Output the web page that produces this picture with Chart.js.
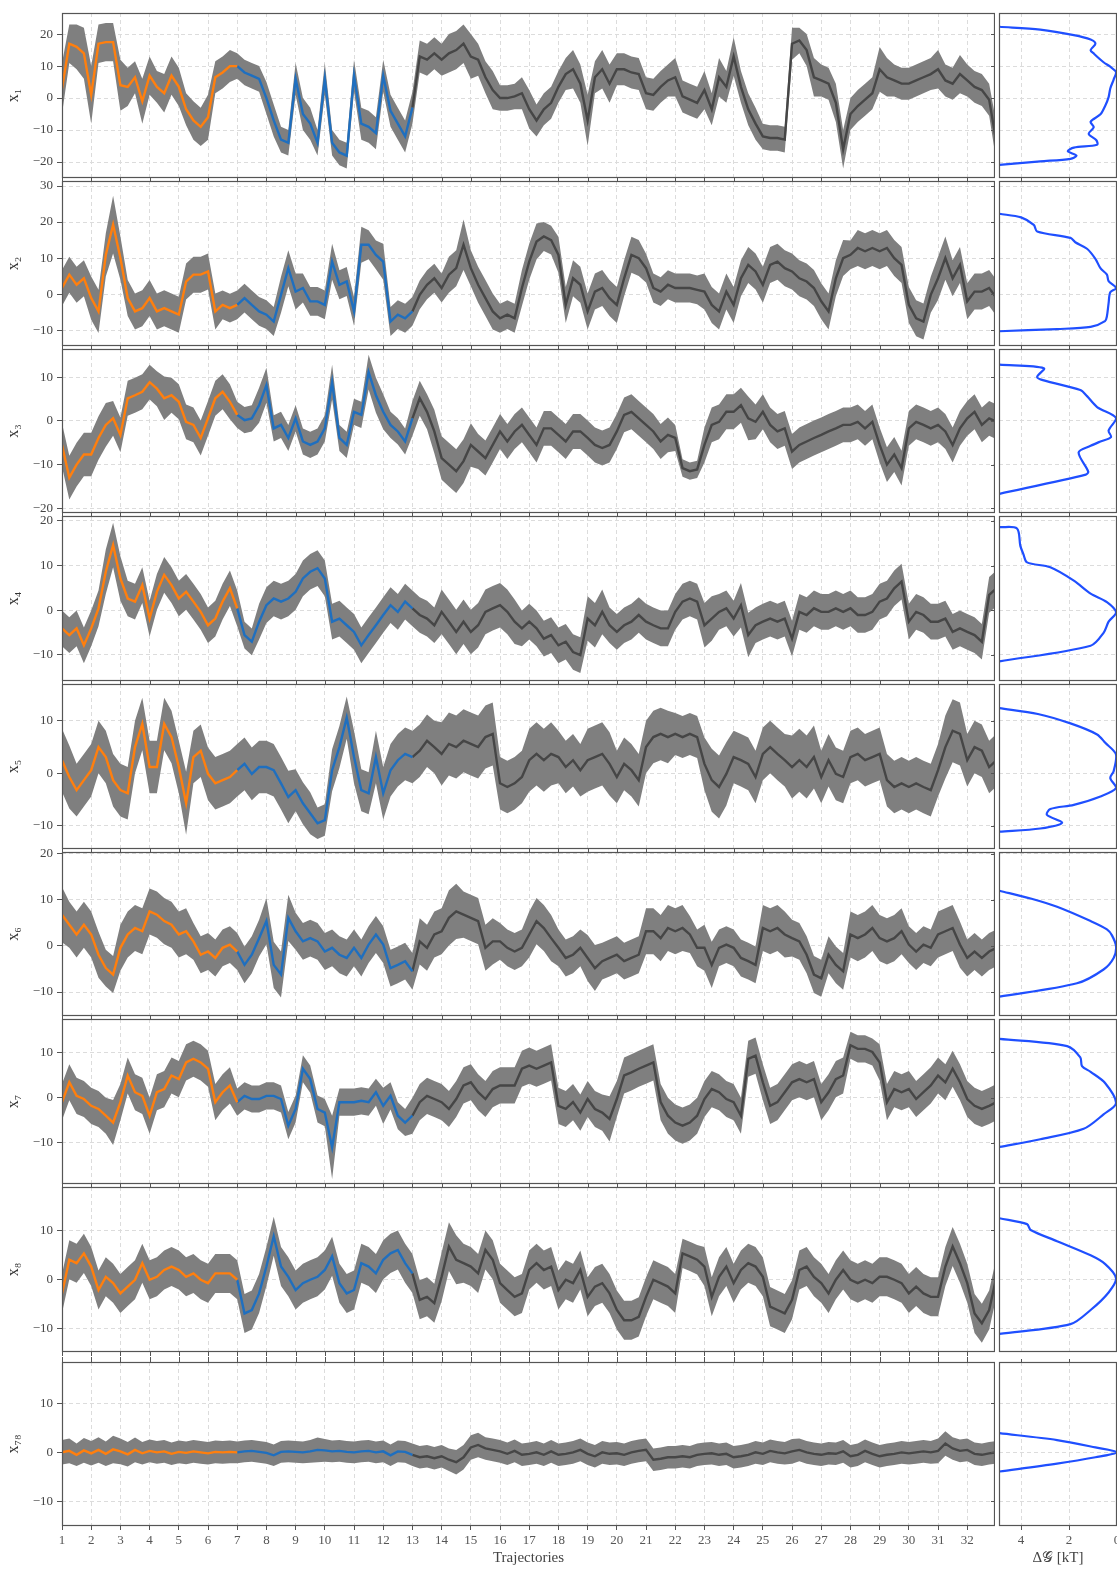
<!DOCTYPE html>
<html>
<head>
<meta charset="utf-8">
<script src="https://cdn.jsdelivr.net/npm/chart.js@4.4.1/dist/chart.umd.min.js"></script>
<style>
  body { margin: 0; background: #fff; width: 1118px; height: 1569px; position: relative; overflow: hidden; }
  canvas { position: absolute; }
</style>
</head>
<body>
<script>
// trajectory axis: one sample every quarter trajectory, starting at 1
const trajTicks = [1, 2, 3, 4, 5, 6, 7, 8, 9, 10, 11, 12, 13, 14, 15, 16, 17, 18, 19, 20, 21, 22, 23, 24, 25, 26, 27, 28, 29, 30, 31, 32];
const step = 0.25;
const energyTicks = [0, 2, 4];

// smoothed coordinate (mean) and half-width of the raw spread around it
const x1Mean = [3, 17, 16, 14, 1, 17, 17.5, 17.5, 4, 3.5, 6.5, -1, 7, 3.5, 1.5, 7, 3.5, -3.5, -7, -9, -6, 6.5, 8, 10,
  10, 8, 7, 6, 0, -7, -13, -14, 6, -5, -8, -14, 6, -14, -17, -18, 7, -8, -9, -11, 7, -4, -8, -12,
  -3, 13, 12, 14, 12, 14, 15, 17, 13, 12, 6.5, 2.5, 0, 0, 0.5, 1.5, -3.5, -7, -3.5, -1.5, 3.5, 7.5, 9, 4.5,
  -7, 6.5, 9, 4.5, 9, 9, 8, 7.5, 1.5, 1, 3.5, 5.5, 6.5, 0.5, -0.5, -1.5, 2.5, -3.5, 6.5, 3.5, 13, 3.5, -3.5, -8,
  -12, -12.5, -12.5, -13, 17, 18, 15, 6.5, 5.5, 4.5, -1.5, -16, -5, -2.5, -0.5, 1.5, 9, 6.5, 5.5, 4.5,
  4.5, 5.5, 6.5, 7.5, 9, 5.5, 4.5, 7.5, 5.5, 3.5, 2.5, -0.5, -14];
const x1Band = [8, 6, 7, 8, 9, 6, 6, 6, 8, 6, 5, 7, 6, 5, 6, 6, 6, 5, 6, 6, 7, 5, 5, 5,
  4, 4, 4, 4, 5, 5, 4, 4, 5, 5, 5, 4, 5, 4, 4, 4, 5, 5, 5, 5, 5, 5, 5, 5,
  5, 5, 5, 5, 5, 6, 6, 6, 7, 5, 5, 6, 4, 4, 4, 5, 6, 5, 5, 5, 5, 5, 6, 6,
  8, 5, 6, 6, 5, 5, 5, 5, 5, 5, 5, 5, 6, 5, 5, 5, 6, 5, 6, 5, 6, 5, 5, 5,
  4, 4, 4, 4, 5, 4, 5, 6, 5, 5, 6, 6, 5, 5, 5, 5, 7, 6, 5, 5,
  5, 5, 5, 5, 6, 5, 5, 6, 5, 5, 5, 5, 6];

const x2Mean = [1.7, 5.4, 2.6, 4.4, -1.1, -4.8, 10.9, 19.3, 10, -1.1, -4.8, -3.9, -1.1, -4.8, -3.9, -4.8, -5.7, 3.5, 5.4, 5.4, 6.3, -4.8, -3, -3.9,
  -3, -1.1, -3, -4.8, -5.7, -7.6, -0.2, 7.2, 0.7, 1.7, -2, -2, -3, 9, 2.6, 3.5, -4.8, 13.7, 13.7, 10.9, 9, -7.6, -5.7, -6.7,
  -4.8, -0.2, 2.6, 4.4, 1.7, 5.4, 7.2, 13.7, 7.2, 2.6, -1.1, -4.8, -6.7, -5.7, -6.7, 1.7, 9, 14.6, 16, 15, 10.9, -3, 4.4, 2.6,
  -4.8, 0.7, 1.7, -1.1, -3, 4.4, 10.9, 10, 7.2, 1.7, 0.7, 2.6, 1.7, 1.7, 1.7, 1.2, 0.7, -3, -4.8, 0.7, -3, 4.4, 8.1, 6.3,
  2.6, 8.1, 9, 7.2, 6.3, 4.4, 3.5, 1.7, -2, -4.8, 4.4, 10, 10.9, 12.8, 11.9, 12.8, 11.9, 12.8, 10, 8.1,
  -3, -6.7, -7.6, -0.2, 4.4, 10, 4.4, 8.1, -2, 0.7, 0.7, 1.7, -1.1];
const x2Band = [5, 5, 5, 5, 6, 6, 6, 8, 6, 5, 5, 5, 5, 5, 5, 5, 5, 5, 5, 5, 5, 5, 4, 4,
  4, 4, 4, 4, 4, 4, 5, 5, 5, 4, 4, 4, 4, 5, 4, 4, 4, 5, 4, 4, 5, 4, 4, 4,
  4, 4, 4, 4, 4, 5, 5, 7, 5, 5, 5, 5, 4, 4, 4, 5, 5, 5, 4, 4, 5, 5, 5, 5,
  5, 5, 5, 5, 5, 5, 5, 5, 4, 4, 4, 4, 4, 4, 4, 4, 5, 5, 5, 5, 5, 5, 5, 5,
  5, 5, 5, 5, 5, 5, 5, 5, 5, 5, 5, 5, 4, 5, 5, 5, 5, 5, 5, 5,
  5, 5, 5, 5, 6, 6, 5, 5, 5, 5, 5, 5, 5];

const x3Mean = [-5.5, -13, -10, -7.7, -7.7, -3.9, -0.9, 0.6, -3.2, 5.2, 5.9, 6.7, 8.9, 7.4, 5.2, 5.9, 4.4, -0.2, -0.9, -3.9, 0.6, 5.2, 6.7, 4.4,
  1.4, 0.2, 0.6, 3.6, 8.2, -1.7, -0.9, -3.9, 0.6, -4.7, -5.5, -4.7, -1.7, 8.9, -3.9, -5.5, 2.1, 1.4, 11.2, 5.9, 2.1, -0.9, -2.4, -4.7,
  0.6, 5.2, 2.1, -2.4, -8.5, -10, -11.5, -9.2, -5.5, -7, -8.5, -5.5, -2.4, -4.7, -2.4, -0.9, -3.2, -5.5, -1.7, -1.7, -3.2, -4.7, -2.4, -2.4,
  -3.9, -5.5, -6.2, -5.5, -2.4, 1.4, 2.1, 0.6, -0.9, -2.4, -4.7, -3.2, -3.9, -10.8, -11.5, -11.1, -5.5, -0.9, -0.2, 2.1, 2.1, 3.6, 0.6, -0.2,
  2.1, -0.9, -2.4, -1.7, -7, -5.5, -4.7, -3.9, -3.2, -2.4, -1.7, -0.9, -0.9, -0.2, -1.7, -0.2, -5.5, -10, -7.7, -10.8,
  -1.7, -0.2, -0.9, -1.7, -0.9, -2.4, -5.5, -1.7, 0.6, 2.1, -0.9, 0.6, -0.2];
const x3Band = [5, 5, 5, 5, 5, 5, 5, 4, 4, 4, 4, 4, 4, 4, 5, 4, 4, 4, 4, 4, 4, 4, 4, 4,
  3, 3, 3, 4, 4, 3, 3, 3, 3, 3, 3, 3, 3, 4, 3, 3, 3, 3, 4, 4, 4, 3, 3, 3,
  4, 4, 4, 5, 5, 5, 5, 5, 5, 4, 4, 4, 4, 4, 4, 4, 4, 4, 4, 4, 4, 4, 4, 4,
  4, 4, 4, 4, 4, 4, 4, 4, 4, 4, 4, 4, 3, 2, 2, 2, 4, 4, 4, 4, 4, 4, 5, 4,
  4, 4, 4, 4, 4, 4, 4, 4, 4, 4, 4, 4, 4, 4, 4, 4, 4, 4, 4, 4,
  4, 4, 4, 4, 4, 4, 4, 4, 4, 4, 4, 4, 4];

const x4Mean = [-4.1, -5.6, -4.1, -7.9, -4.1, 0.4, 8.6, 14.6, 7.1, 2.6, 1.9, 5.6, -1.9, 4.1, 7.9, 5.6, 2.6, 4.1, 1.9, -0.4, -3.4, -1.9, 1.9, 4.9,
  0.4, -5.6, -7.1, -2.6, 1.1, 2.6, 1.9, 2.6, 4.1, 7.1, 8.6, 9.4, 7.1, -2.6, -1.9, -3.4, -4.9, -7.9, -5.6, -3.4, -1.1, 1.1, -0.4, 1.9,
  0.4, -1.1, -1.9, -3.4, -0.4, -2.6, -4.9, -2.6, -4.9, -3.4, -0.4, 0.4, 1.1, -0.4, -2.6, -4.1, -2.6, -4.1, -6.4, -5.6, -7.9, -7.1, -9.4, -10.1,
  -1.9, -3.4, -0.4, -3.4, -4.9, -3.4, -2.6, -1.1, -2.6, -3.4, -4.1, -4.1, -0.4, 1.9, 2.6, 1.9, -3.4, -1.9, -0.4, 0.4, -1.9, 1.1, -5.6, -3.4,
  -2.6, -1.9, -2.6, -1.9, -6.4, -0.4, -1.1, 0.4, -0.4, -0.4, 0.4, -0.4, 0.4, -1.1, -1.1, -0.4, 1.9, 2.6, 4.9, 6.4,
  -2.6, -0.4, -1.1, -2.6, -2.6, -1.9, -4.9, -4.1, -4.9, -5.6, -7.1, 3.4, 4.9];
const x4Band = [4, 4, 4, 4, 4, 4, 5, 5, 5, 4, 4, 4, 4, 4, 4, 4, 4, 4, 4, 4, 4, 4, 4, 4,
  4, 3, 3, 4, 4, 4, 4, 4, 4, 4, 4, 4, 4, 4, 4, 4, 4, 4, 4, 4, 4, 4, 4, 4,
  4, 4, 4, 4, 5, 5, 5, 5, 5, 5, 5, 5, 5, 5, 5, 4, 4, 4, 4, 4, 4, 4, 4, 4,
  5, 5, 5, 4, 4, 4, 4, 4, 4, 4, 4, 4, 4, 4, 4, 4, 5, 5, 4, 4, 4, 5, 5, 4,
  4, 4, 4, 4, 4, 4, 4, 4, 4, 4, 4, 4, 4, 4, 4, 4, 4, 4, 4, 4,
  4, 4, 4, 4, 4, 4, 4, 4, 4, 4, 4, 4, 4];

const x5Mean = [2.5, -0.7, -3.2, -1.3, 0.6, 5, 3.1, -1.3, -3.2, -3.8, 5, 9.4, 1.2, 1.2, 9.4, 6.9, 1.2, -5.7, 3.1, 4.3, -0.1, -1.9, -1.3, -0.7,
  0.6, 1.8, -0.1, 1.2, 1.2, 0.6, -1.9, -4.5, -3.2, -5.7, -7.6, -9.5, -8.9, 0.6, 5, 10.6, 3.1, -3.2, -3.8, 3.1, -3.8, 0.6, 2.5, 3.7,
  3.1, 4.3, 6.2, 5, 3.7, 5.6, 5, 6.2, 5.6, 5, 6.9, 7.5, -1.9, -2.6, -1.9, -0.7, 2.5, 3.7, 2.5, 3.7, 3.1, 1.2, 2.5, 0.6,
  2.5, 3.1, 3.7, 1.8, -0.7, 1.8, 0.6, -1.3, 5, 6.9, 7.5, 6.9, 7.5, 6.9, 7.5, 6.9, 1.8, -1.3, -2.6, -0.1, 3.1, 2.5, 1.8, -0.7,
  3.7, 5, 3.7, 2.5, 1.2, 2.5, 1.2, 3.1, -0.7, 2.5, -0.1, -0.7, 3.1, 3.7, 2.5, 3.1, 3.7, -1.3, -2.6, -1.9,
  -2.6, -1.9, -2.6, -3.2, 0.6, 5, 8.1, 7.5, 2.5, 5, 4.3, 1.2, 2.5];
const x5Band = [6, 6, 5, 5, 5, 5, 5, 5, 5, 5, 5, 5, 5, 5, 5, 5, 5, 6, 5, 5, 5, 5, 5, 5,
  5, 5, 5, 5, 5, 5, 5, 5, 4, 4, 4, 3, 3, 4, 4, 4, 5, 4, 4, 5, 5, 5, 5, 5,
  5, 5, 5, 5, 6, 6, 6, 6, 6, 6, 6, 6, 5, 5, 5, 5, 6, 6, 6, 6, 5, 5, 5, 5,
  6, 6, 6, 6, 5, 5, 5, 5, 5, 5, 5, 5, 4, 4, 4, 4, 5, 6, 6, 6, 5, 5, 5, 5,
  5, 5, 5, 5, 6, 6, 6, 6, 5, 5, 5, 5, 5, 5, 5, 5, 5, 5, 5, 5,
  5, 5, 5, 5, 5, 6, 6, 6, 5, 5, 5, 5, 5];

const x6Mean = [6.8, 4.6, 2.5, 4.6, 2.5, -1.9, -4.8, -6.2, -0.4, 2.5, 3.9, 3.2, 7.5, 6.8, 5.4, 4.6, 2.5, 3.2, 1, -1.9, -1.2, -2.6, -0.4, 0.3,
  -1.2, -4.1, -1.9, 1.7, 5.4, -4.1, -6.2, 6.1, 3.2, 1, 1.7, 1, -1.2, -0.4, -1.9, -2.6, -0.4, -2.6, 0.3, 2.5, 0.3, -4.8, -4.1, -3.3,
  -5.5, 1, -0.4, 2.5, 3.2, 6.1, 7.5, 6.8, 6.1, 5.4, -0.4, 1, 1, -0.4, -1.2, -0.4, 2.5, 5.4, 3.9, 1.7, -0.4, -2.6, -1.9, -0.4,
  -2.6, -4.8, -3.3, -2.6, -1.9, -3.3, -2.6, -1.9, 3.2, 3.2, 1.7, 3.9, 3.2, 3.9, 2.5, -0.4, -0.4, -4.1, -0.4, 0.3, -0.4, -2.6, -3.3, -4.1,
  3.9, 3.2, 3.9, 2.5, 1.7, 1, -1.9, -6.2, -7, -1.9, -4.1, -5.5, 2.5, 1.7, 2.5, 3.9, 1.7, 1, 1.7, 3.2,
  0.3, -1.2, 0.3, -0.4, 2.5, 3.2, 3.9, 0.3, -2.6, -1.2, -2.6, -1.2, -0.4];
const x6Band = [6, 5, 5, 5, 5, 5, 4, 4, 5, 5, 5, 5, 5, 5, 5, 5, 5, 5, 4, 4, 4, 4, 4, 4,
  4, 4, 4, 4, 5, 5, 5, 5, 4, 4, 4, 4, 4, 4, 4, 4, 4, 4, 4, 4, 4, 4, 4, 4,
  4, 5, 5, 5, 5, 6, 6, 5, 5, 5, 5, 5, 4, 4, 4, 4, 5, 5, 5, 5, 4, 4, 4, 4,
  5, 5, 4, 4, 4, 4, 4, 4, 5, 5, 5, 5, 5, 5, 4, 4, 5, 5, 4, 4, 4, 4, 4, 4,
  5, 5, 5, 5, 4, 4, 4, 4, 4, 4, 4, 4, 5, 5, 5, 5, 5, 5, 5, 5,
  4, 4, 4, 4, 5, 5, 5, 5, 4, 4, 4, 4, 4];

const x7Mean = [-1, 3.4, 0.4, -0.3, -1.8, -2.5, -4, -5.5, -1, 4.9, 1.2, 0.4, -4, 1.2, 1.9, 4.9, 4.1, 7.8, 8.6, 7.8, 6.4, -1, 1.2, 2.7,
  -1, 0.4, -0.3, -0.3, 0.4, 0.4, -0.3, -6.2, -2.5, 6.4, 4.1, -2.5, -3.3, -11, -1, -1, -1, -0.7, -1, 1.2, -1.8, 0.4, -4, -5.5,
  -4, -1, 0.4, -0.3, -1, -2.5, -0.3, 2.7, 3.4, 1.2, -0.3, 1.9, 2.7, 2.7, 2.7, 6.4, 7.1, 6.4, 7.1, 7.8, -1.8, -2.5, -1, -3.3,
  -0.3, -2.5, -3.3, -4.7, -0.3, 4.9, 5.6, 6.4, 7.1, 7.8, -1, -4, -5.5, -6.2, -5.5, -4, -0.3, 1.9, 1.2, -0.3, -1, -4, 8.6, 9.3,
  3.4, -1.8, -1, 1.2, 3.4, 4.1, 3.4, 4.1, -1, 1.2, 4.1, 4.9, 11.6, 10.8, 10.8, 10.1, 7.8, -1, 1.9, 1.2,
  1.9, -0.3, 1.2, 2.7, 4.9, 3.4, 6.4, 3.4, -0.3, -1.8, -2.5, -1.8, -1];
const x7Band = [4, 4, 4, 4, 4, 4, 4, 5, 4, 4, 4, 4, 4, 4, 4, 4, 4, 4, 4, 4, 4, 4, 4, 4,
  3, 3, 3, 3, 3, 3, 3, 3, 3, 3, 3, 3, 3, 7, 3, 3, 3, 3, 3, 3, 4, 3, 3, 3,
  4, 4, 4, 4, 4, 4, 4, 4, 4, 4, 4, 4, 4, 4, 4, 4, 4, 4, 4, 4, 4, 4, 4, 4,
  4, 4, 4, 5, 4, 4, 4, 4, 4, 4, 4, 4, 4, 4, 4, 4, 4, 4, 4, 4, 4, 4, 4, 4,
  4, 4, 4, 4, 4, 4, 4, 4, 4, 4, 4, 4, 3, 3, 3, 3, 4, 4, 4, 4,
  4, 4, 4, 4, 4, 4, 4, 4, 4, 4, 4, 4, 4];

const x8Mean = [-2.9, 4, 3.3, 5.3, 2.6, -2.2, 0.5, -0.8, -2.9, -1.5, -0.1, 3.3, -0.1, 0.5, 1.9, 2.6, 1.9, 0.5, 1.2, -0.1, -0.8, 1.2, 1.2, 1.2,
  -0.1, -7, -6.3, -2.9, 2.6, 8.8, 2.6, 0.5, -2.2, -0.8, -0.1, 0.5, 1.9, 4.7, -0.8, -2.9, -2.2, 3.3, 2.6, 1.2, 4, 5.3, 6, 3.3,
  1.2, -4.2, -3.6, -4.9, 0.5, 6.7, 4, 3.3, 2.6, 1.2, 6, 4, -0.8, -2.2, -3.6, -2.9, 1.9, 3.3, 1.9, 2.6, -2.2, -0.1, -0.8, 1.9,
  -3.6, -1.5, -0.8, -2.9, -6.3, -8.4, -8.4, -7.7, -3.6, -0.1, -0.8, -1.5, -2.9, 5.3, 4.7, 4, 2.6, -3.6, 0.5, 2.6, -0.8, 1.9, 3.3, 2.6,
  0.5, -5.6, -6.3, -7, -4.2, 1.9, 2.6, 0.5, -0.8, -2.9, -0.1, 1.9, -0.1, -0.8, -0.1, -0.8, 0.5, 0.5, -0.1, -0.8,
  -2.9, -1.5, -2.9, -3.6, -3.6, 2.6, 6.7, 3.3, -0.8, -7, -9, -6.3, 0.5];
const x8Band = [4, 4, 4, 4, 4, 4, 4, 4, 4, 4, 4, 4, 4, 4, 4, 4, 4, 4, 4, 4, 4, 4, 4, 4,
  4, 4, 4, 4, 4, 4, 4, 4, 4, 4, 4, 4, 4, 4, 4, 4, 4, 4, 4, 4, 4, 4, 4, 4,
  4, 4, 4, 4, 5, 5, 5, 4, 4, 4, 4, 4, 4, 4, 4, 4, 4, 4, 4, 4, 4, 4, 4, 4,
  4, 4, 4, 4, 4, 4, 4, 4, 4, 4, 4, 4, 4, 3, 3, 3, 4, 4, 4, 4, 4, 4, 4, 4,
  4, 4, 4, 4, 4, 4, 4, 4, 4, 4, 4, 4, 4, 4, 4, 4, 4, 4, 4, 4,
  4, 4, 4, 4, 4, 4, 4, 4, 4, 4, 4, 4, 4];

const x78Mean = [0, 0.3, -0.5, 0.4, -0.2, 0.5, -0.3, 0.6, 0.2, -0.4, 0.5, -0.2, 0.3, 0, 0.2, -0.3, 0.1, -0.1, 0.2, 0, -0.2, 0.1, 0, 0.1,
  0, 0.2, 0.3, 0.1, -0.1, -0.6, 0.1, 0.2, 0.1, 0, 0.2, 0.5, 0.4, 0.2, 0.3, 0.1, 0, 0.2, 0.3, 0, 0.2, -0.6, 0.2, 0.1,
  -0.5, -1, -0.8, -1.2, -0.8, -1.5, -2, -1, 1, 1.5, 0.8, 0.5, 0.2, -0.3, 0.3, -0.5, -0.3, 0, -0.5, 0.2, -0.5, -0.3, 0, 0.5,
  -0.3, -0.8, 0, -0.3, -0.2, -0.5, 0, 0.3, 0.5, -1.5, -1.3, -1, -1, -0.8, -1, -0.5, -0.3, -0.2, -0.5, -0.3, -1, -0.8, -0.5, 0,
  -0.3, 0.3, 0, -0.2, 0.2, 0.5, 0, -0.3, -0.5, -0.2, -0.3, 0.2, -0.8, -0.5, 0.3, -0.3, -0.8, -0.5, -0.3, 0,
  -0.2, 0, 0.2, 0, 0.3, 1.8, 0.8, 0.3, 0.5, -0.3, -0.5, -0.2, 0];
const x78Band = [2.5, 2.5, 2.3, 2.5, 2.5, 2.6, 2.5, 2.8, 2.6, 2.5, 2.5, 2.3, 2.3, 2.3, 2.3, 2.3, 2.3, 2.3, 2.3, 2.3, 2.3, 2.3, 2.3, 2.3,
  2.2, 2.2, 2.2, 2.2, 2.2, 2.2, 2.2, 2.2, 2.2, 2.2, 2.3, 2.5, 2.3, 2.2, 2.2, 2.2, 2.2, 2.2, 2.2, 2.2, 2.2, 2.2, 2.2, 2.2,
  2.3, 2.3, 2.3, 2.3, 2.3, 2.3, 2.5, 2.5, 2.5, 2.5, 2.3, 2.3, 2.3, 2.3, 2.3, 2.3, 2.3, 2.3, 2.3, 2.3, 2.3, 2.3, 2.3, 2.3,
  2.3, 2.3, 2.3, 2.3, 2.3, 2.3, 2.3, 2.3, 2.3, 2.3, 2.3, 2.3, 2.3, 2.3, 2.3, 2.3, 2.3, 2.3, 2.3, 2.3, 2.3, 2.3, 2.3, 2.3,
  2.3, 2.3, 2.3, 2.3, 2.5, 2.3, 2.3, 2.3, 2.3, 2.3, 2.3, 2.3, 2.3, 2.3, 2.3, 2.3, 2.3, 2.3, 2.3, 2.3,
  2.3, 2.3, 2.3, 2.3, 2.5, 2.5, 2.3, 2.3, 2.3, 2.3, 2.3, 2.3, 2.3];

// free-energy profiles: coordinate level and ΔG at that level
const x1Levels = [22.3, 21.4, 19.7, 18.3, 17, 15, 13.8, 11.2, 9.8, 8.1, 5.8, 3, 0.3, -2.4, -5.1, -7.4, -9.1, -11.2, -13.2, -14.6, -15.5, -16.6, -18, -19, -19.8, -20.9];
const x1Energy = [4.9, 3.2, 1.8, 1.1, 0.9, 1.1, 0.95, 0.56, 0.28, 0.04, 0.14, 0.28, 0.35, 0.49, 0.69, 1.1, 0.97, 1.18, 0.86, 0.83, 1.8, 2.05, 1.69, 1.94, 3.2, 4.9];
const x2Levels = [22.3, 21.3, 19.2, 17.4, 15.6, 14.4, 12.6, 9.8, 7.2, 5.4, 3.6, 1.7, 0.5, -2.5, -6.1, -7.5, -9.1, -9.7, -10.3];
const x2Energy = [4.9, 4.0, 3.47, 3.33, 1.94, 1.74, 1.25, 0.9, 0.69, 0.42, 0.35, 0.04, 0.28, 0.35, 0.42, 0.5, 1.1, 2.5, 4.9];
const x3Levels = [12.9, 12.1, 10.1, 9.3, 7.1, 5.7, 3.2, 0.7, -2.2, -3.7, -4.7, -5.7, -7.2, -11.6, -12.3, -16.7];
const x3Energy = [4.9, 3.05, 3.33, 3.05, 1.53, 1.25, 0.83, 0.04, 0.35, 0.25, 0.69, 1.1, 1.6, 1.2, 1.3, 4.9];
const x4Levels = [18.6, 18.3, 14.4, 12.5, 10.7, 9.6, 6.6, 3.7, 1.8, -0.5, -2.6, -5.1, -8, -11.5];
const x4Energy = [4.9, 4.17, 4.03, 3.9, 3.75, 2.78, 1.8, 1.1, 0.42, 0.04, 0.35, 0.56, 1.1, 4.9];
const x5Levels = [12.4, 11.3, 9.5, 7.4, 5.8, 3.6, 0.4, -0.9, -2.8, -4.4, -6, -6.8, -7.9, -9.4, -10.5, -11.1];
const x5Energy = [4.9, 3.3, 1.94, 0.83, 0.49, 0.04, 0.14, 0.28, 0.04, 0.69, 1.8, 2.78, 2.92, 2.29, 3.2, 4.9];
const x6Levels = [12, 10.3, 8.5, 5.4, 3.6, 2.3, -0.1, -2.6, -5.1, -8.1, -11];
const x6Energy = [4.9, 3.6, 2.5, 1.1, 0.42, 0.21, 0.04, 0.14, 0.56, 1.67, 4.9];
const x7Levels = [13, 11.4, 8.9, 7, 5.7, 3.2, -1.2, -3.7, -6.9, -9.2, -10.9];
const x7Energy = [4.9, 2.08, 1.53, 1.46, 1.1, 0.49, 0.04, 0.56, 1.39, 3.2, 4.9];
const x8Levels = [12.5, 11.3, 10.1, 7.8, 4.9, 3.1, 0.2, -2.7, -6.3, -9.2, -11.2];
const x8Energy = [4.9, 3.75, 3.6, 2.5, 1.1, 0.49, 0.04, 0.35, 1.1, 1.94, 4.9];
const x78Levels = [3.9, 2.5, 1, 0, -1, -2.3, -3.9];
const x78Energy = [4.9, 2.5, 0.9, 0, 0.9, 2.5, 4.9];

const x1Ticks = [-20, -10, 0, 10, 20];
const x2Ticks = [-10, 0, 10, 20, 30];
const x3Ticks = [-20, -10, 0, 10];
const x4Ticks = [-10, 0, 10, 20];
const x5Ticks = [-10, 0, 10];
const x6Ticks = [-10, 0, 10, 20];
const x7Ticks = [-10, 0, 10];
const x8Ticks = [-10, 0, 10];
const x78Ticks = [-10, 0, 10];

const rows = [
  { name: 'x₁', mean: x1Mean, band: x1Band, levels: x1Levels, energy: x1Energy, ticks: x1Ticks, yMin: -25, yMax: 26.6, top: 13, bottom: 178 },
  { name: 'x₂', mean: x2Mean, band: x2Band, levels: x2Levels, energy: x2Energy, ticks: x2Ticks, yMin: -14.4, yMax: 31.4, top: 181, bottom: 346 },
  { name: 'x₃', mean: x3Mean, band: x3Band, levels: x3Levels, energy: x3Energy, ticks: x3Ticks, yMin: -21.1, yMax: 16.5, top: 349, bottom: 513 },
  { name: 'x₄', mean: x4Mean, band: x4Band, levels: x4Levels, energy: x4Energy, ticks: x4Ticks, yMin: -15.9, yMax: 21.1, top: 516, bottom: 681 },
  { name: 'x₅', mean: x5Mean, band: x5Band, levels: x5Levels, energy: x5Energy, ticks: x5Ticks, yMin: -14.4, yMax: 17, top: 684, bottom: 849 },
  { name: 'x₆', mean: x6Mean, band: x6Band, levels: x6Levels, energy: x6Energy, ticks: x6Ticks, yMin: -15.2, yMax: 20.4, top: 852, bottom: 1016 },
  { name: 'x₇', mean: x7Mean, band: x7Band, levels: x7Levels, energy: x7Energy, ticks: x7Ticks, yMin: -19.1, yMax: 17.4, top: 1019, bottom: 1184 },
  { name: 'x₈', mean: x8Mean, band: x8Band, levels: x8Levels, energy: x8Energy, ticks: x8Ticks, yMin: -14.9, yMax: 18.9, top: 1187, bottom: 1352 },
  { name: 'x₇₈', mean: x78Mean, band: x78Band, levels: x78Levels, energy: x78Energy, ticks: x78Ticks, yMin: -15, yMax: 18.4, top: 1362, bottom: 1526 }
];

const SERIF = '"Liberation Serif", "DejaVu Serif", serif';
const ORANGE = '#ff7f0e';
const BLUE = '#1f6fbf';
const DARK = '#464646';
const BAND = '#7f7f7f';
const CURVE = '#1f4fff';
const GRID = '#dcdcdc';
const AXIS = '#555555';
const PAD = 8;
const PAGE_H = 1569;
const X_END = 32.95;

Chart.defaults.font.family = SERIF;

const minus = v => (v < 0 ? '\u2212' + Math.abs(v) : String(v));

// panel outline plus the small tick marks matplotlib puts on the other edges
const framePlugin = {
  id: 'frame',
  afterDatasetsDraw(chart, args, opts) {
    const { ctx, chartArea: a, scales } = chart;
    ctx.save();
    ctx.strokeStyle = AXIS;
    ctx.lineWidth = 1;
    ctx.beginPath();
    if (opts.right) {
      for (const t of scales.y.ticks) {
        const py = Math.round(scales.y.getPixelForValue(t.value)) + 0.5;
        ctx.moveTo(a.right - 4, py);
        ctx.lineTo(a.right, py);
      }
    }
    for (const t of scales.x.ticks) {
      const px = Math.round(scales.x.getPixelForValue(t.value)) + 0.5;
      if (opts.top) { ctx.moveTo(px, a.top - opts.top); ctx.lineTo(px, a.top); }
      if (opts.bottom) { ctx.moveTo(px, a.bottom); ctx.lineTo(px, a.bottom + opts.bottom); }
    }
    ctx.stroke();
    ctx.lineWidth = 1.2;
    ctx.strokeRect(a.left + 0.5, a.top + 0.5, a.right - a.left - 1, a.bottom - a.top - 1);
    ctx.restore();
  }
};

function addCanvas(left, top, width, height) {
  const c = document.createElement('canvas');
  c.width = width;
  c.height = height;
  c.style.left = left + 'px';
  c.style.top = top + 'px';
  c.style.width = width + 'px';
  c.style.height = height + 'px';
  document.body.appendChild(c);
  return c;
}

function fixedTicks(values) {
  return scale => { scale.ticks = values.map(v => ({ value: v })); };
}

rows.forEach((r, idx) => {
  const last = idx === rows.length - 1;
  const canvasTop = r.top - PAD;
  const canvasH = last ? PAGE_H - canvasTop : r.bottom - r.top + 2 * PAD;
  const times = r.mean.map((_, i) => 1 + i * step);
  const pts = arr => arr.map((v, i) => ({ x: times[i], y: v }));
  const hi = r.mean.map((v, i) => v + r.band[i]);
  const lo = r.mean.map((v, i) => v - r.band[i]);
  const mean = pts(r.mean);
  // lower order is painted last, so the mean lines sit on top of the spread
  const line = color => ({ borderColor: color, borderWidth: 2.4, pointRadius: 0, fill: false, tension: 0, order: 0 });

  new Chart(addCanvas(0, canvasTop, 995, canvasH), {
    type: 'line',
    data: {
      datasets: [
        { data: pts(hi), borderWidth: 0, pointRadius: 0, fill: '+1', backgroundColor: BAND, order: 2 },
        { data: pts(lo), borderWidth: 0, pointRadius: 0, fill: false, order: 2 },
        { data: mean.slice(0, 25), ...line(ORANGE) },
        { data: mean.slice(24, 49), ...line(BLUE) },
        { data: mean.slice(48), ...line(DARK) }
      ]
    },
    options: {
      responsive: false,
      animation: false,
      devicePixelRatio: 1,
      events: [],
      layout: { padding: { top: PAD, bottom: last ? 0 : PAD, left: 0, right: 0 } },
      plugins: {
        legend: { display: false },
        tooltip: { enabled: false },
        frame: { right: true, top: idx === 0 ? 0 : (last ? 5 : 3), bottom: idx === rows.length - 2 ? 4 : 0 }
      },
      scales: {
        x: {
          type: 'linear', min: 1, max: X_END,
          afterBuildTicks: fixedTicks(trajTicks),
          grid: { color: GRID, drawTicks: last, tickLength: 4, tickColor: AXIS, tickBorderDash: [] },
          border: { display: false, dash: [4, 3] },
          ticks: { display: last, color: '#555', font: { size: 13 }, padding: 3, maxRotation: 0, autoSkip: false },
          title: { display: last, text: 'Trajectories', color: '#444', font: { size: 15 }, padding: { top: 0, bottom: 2 } },
          afterFit: s => { s.height = last ? PAGE_H - r.bottom : 0; s.paddingLeft = 0; s.paddingRight = 0; }
        },
        y: {
          min: r.yMin, max: r.yMax,
          afterBuildTicks: fixedTicks(r.ticks),
          grid: { color: GRID, tickLength: 5, tickColor: AXIS, tickBorderDash: [] },
          border: { display: false, dash: [4, 3] },
          ticks: { color: '#444', font: { size: 13 }, padding: 4, callback: v => minus(v) },
          title: { display: true, text: r.name, color: '#333', font: { size: 16 }, padding: { top: 4, bottom: 0 } },
          afterFit: s => { s.width = 62; s.paddingTop = 0; s.paddingBottom = 0; }
        }
      }
    },
    plugins: [framePlugin]
  });

  // free-energy profile beside the trajectories, ΔG growing to the left
  new Chart(addCanvas(998, canvasTop, 119, canvasH), {
    type: 'line',
    data: {
      datasets: [{
        data: r.levels.map((v, i) => ({ x: r.energy[i], y: v })),
        borderColor: CURVE, borderWidth: 2.2, pointRadius: 0, fill: false, tension: 0.3
      }]
    },
    options: {
      responsive: false,
      animation: false,
      devicePixelRatio: 1,
      events: [],
      layout: { padding: { top: PAD, bottom: last ? 0 : PAD, left: 1, right: 0 } },
      plugins: {
        legend: { display: false },
        tooltip: { enabled: false },
        frame: { right: false, top: idx === 0 ? 0 : 3, bottom: 0 }
      },
      scales: {
        x: {
          type: 'linear', reverse: true, min: 0, max: 4.92,
          afterBuildTicks: fixedTicks(energyTicks),
          grid: { color: GRID, drawTicks: last, tickLength: 4, tickColor: AXIS, tickBorderDash: [] },
          border: { display: false, dash: [4, 3] },
          ticks: { display: last, color: '#555', font: { size: 13 }, padding: 3, maxRotation: 0, autoSkip: false },
          title: { display: last, text: 'Δ𝒢 [kT]', color: '#444', font: { size: 15 }, padding: { top: 0, bottom: 2 } },
          afterFit: s => { s.height = last ? PAGE_H - r.bottom : 0; s.paddingLeft = 0; s.paddingRight = 0; }
        },
        y: {
          min: r.yMin, max: r.yMax,
          afterBuildTicks: fixedTicks(r.ticks),
          grid: { color: GRID, drawTicks: false },
          border: { display: false, dash: [4, 3] },
          ticks: { display: false },
          afterFit: s => { s.width = 0; s.paddingTop = 0; s.paddingBottom = 0; }
        }
      }
    },
    plugins: [framePlugin]
  });
});
</script>
</body>
</html>
